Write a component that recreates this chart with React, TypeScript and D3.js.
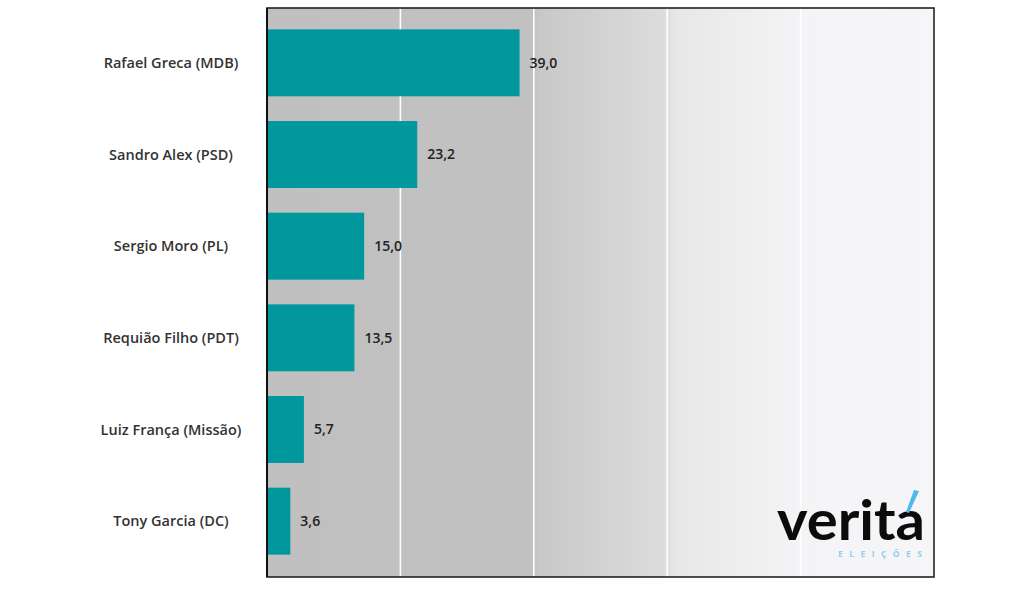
import React from "react";
import * as d3 from "d3";

const categories = [
  "Rafael Greca (MDB)",
  "Sandro Alex (PSD)",
  "Sergio Moro (PL)",
  "Requião Filho (PDT)",
  "Luiz França (Missão)",
  "Tony Garcia (DC)",
];
const values = [39.0, 23.2, 15.0, 13.5, 5.7, 3.6];
const xMax = 103;
const gridTicks = [20.6, 41.2, 61.8, 82.4];

const W = 1024;
const H = 596;
const plot = { left: 267, right: 934, top: 8, bottom: 577 };

export default function App() {
  const x = d3.scaleLinear().domain([0, xMax]).range([plot.left, plot.right]);
  const y = d3
    .scaleBand<string>()
    .domain(categories)
    .range([17, 567])
    .paddingInner(0.27)
    .paddingOuter(0.135);
  const fmt = (v: number) => v.toFixed(1).replace(".", ",");
  const font = "'Open Sans', 'Noto Sans', sans-serif";

  return (
    <svg
      width={W}
      height={H}
      style={{ position: "absolute", left: 0, top: 0, background: "#ffffff" }}
    >
      <defs>
        <linearGradient id="bg" x1="0" x2="1" y1="0" y2="0">
          <stop offset="0" stopColor="#c0c0c0" />
          <stop offset="0.4" stopColor="#c1c1c1" />
          <stop offset="0.41" stopColor="#c8c8c8" />
          <stop offset="0.6" stopColor="#dddddd" />
          <stop offset="0.61" stopColor="#e7e7e7" />
          <stop offset="0.8" stopColor="#f4f4f6" />
          <stop offset="1" stopColor="#f6f6f8" />
        </linearGradient>
      </defs>
      <rect
        x={plot.left}
        y={plot.top}
        width={plot.right - plot.left}
        height={plot.bottom - plot.top}
        fill="url(#bg)"
      />
      {gridTicks.map((t) => (
        <line
          key={t}
          x1={x(t)}
          x2={x(t)}
          y1={plot.top}
          y2={plot.bottom}
          stroke="#ffffff"
          strokeWidth={1.6}
        />
      ))}
      {categories.map((c, i) => (
        <g key={c}>
          <rect
            x={x(0)}
            y={y(c)!}
            width={x(values[i]) - x(0)}
            height={y.bandwidth()}
            fill="#00979d"
          />
          <text
            x={x(values[i]) + 10}
            y={y(c)! + y.bandwidth() / 2}
            dy="0.35em"
            fontFamily={font}
            fontWeight={600}
            fontSize={14}
            fill="#222"
          >
            {fmt(values[i])}
          </text>
          <text
            x={171}
            y={y(c)! + y.bandwidth() / 2}
            dy="0.35em"
            textAnchor="middle"
            fontFamily={font}
            fontWeight={600}
            fontSize={14.5}
            fill="#333"
          >
            {c}
          </text>
        </g>
      ))}
      <rect
        x={plot.left}
        y={plot.top}
        width={plot.right - plot.left}
        height={plot.bottom - plot.top}
        fill="none"
        stroke="#222"
        strokeWidth={1.6}
      />
      <line
        x1={plot.left}
        x2={plot.left}
        y1={plot.top}
        y2={plot.bottom}
        stroke="#111"
        strokeWidth={2}
      />
      <g>
        <text
          x={777}
          y={540}
          fontFamily="Lato, 'Open Sans', sans-serif"
          fontWeight={700}
          fontSize={50}
          fill="#0c0c0c"
          textLength={148}
          lengthAdjust="spacingAndGlyphs"
          transform="translate(0,-54) scale(1,1.1)"
        >
          verita
        </text>
        <path d="M914,490 L919,491 L909,513 L906,512 Z" fill="#4fb8ec" />
        <text
          x={838}
          y={557}
          fontFamily={font}
          fontWeight={700}
          fontSize={8.5}
          fill="#8fd0f2"
          textLength={84}
          lengthAdjust="spacing"
        >
          ELEIÇÕES
        </text>
      </g>
    </svg>
  );
}
